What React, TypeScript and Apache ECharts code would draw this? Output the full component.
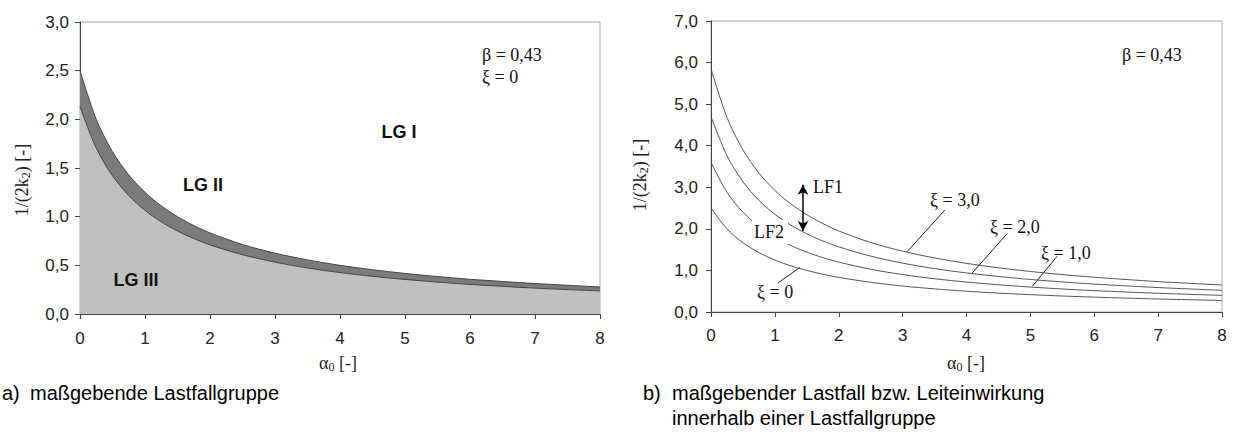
import React, { useEffect, useRef } from "react";
import * as echarts from "echarts";

// α0 sample positions
const alpha = [0, 0.25, 0.5, 0.75, 1, 1.25, 1.5, 1.75, 2, 2.5, 3, 3.5, 4, 4.5, 5, 5.5, 6, 7, 8];

// Left chart (a): boundaries of the load-case groups (β = 0,43, ξ = 0)
const lgUpper = [2.5, 2.0, 1.667, 1.429, 1.25, 1.111, 1.0, 0.909, 0.833, 0.714, 0.625, 0.556, 0.5, 0.455, 0.417, 0.385, 0.357, 0.313, 0.278];
const lgLower = [2.13, 1.704, 1.42, 1.217, 1.065, 0.947, 0.852, 0.775, 0.71, 0.609, 0.533, 0.473, 0.426, 0.387, 0.355, 0.328, 0.304, 0.266, 0.237];

// Right chart (b): curves for ξ = 0, 1, 2, 3
const xi0 = [2.5, 2.0, 1.667, 1.429, 1.25, 1.111, 1.0, 0.909, 0.833, 0.714, 0.625, 0.556, 0.5, 0.455, 0.417, 0.385, 0.357, 0.313, 0.278];
const xi1 = [3.6, 2.88, 2.4, 2.057, 1.8, 1.6, 1.44, 1.309, 1.2, 1.029, 0.9, 0.8, 0.72, 0.655, 0.6, 0.554, 0.514, 0.45, 0.4];
const xi2 = [4.7, 3.76, 3.133, 2.686, 2.35, 2.089, 1.88, 1.709, 1.567, 1.343, 1.175, 1.044, 0.94, 0.855, 0.783, 0.723, 0.671, 0.588, 0.522];
const xi3 = [5.85, 4.68, 3.9, 3.343, 2.925, 2.6, 2.34, 2.127, 1.95, 1.671, 1.463, 1.3, 1.17, 1.064, 0.975, 0.9, 0.836, 0.731, 0.65];

// Tick labels
const xTickLabels = ["0", "1", "2", "3", "4", "5", "6", "7", "8"];
const leftYTickLabels = ["0,0", "0,5", "1,0", "1,5", "2,0", "2,5", "3,0"];
const rightYTickLabels = ["0,0", "1,0", "2,0", "3,0", "4,0", "5,0", "6,0", "7,0"];

// Leader lines (data coords) for the ξ labels and the LF arrow
const leaderXi3 = [[3.66, 2.45], [3.07, 1.45]];
const leaderXi2 = [[4.64, 1.89], [4.09, 0.94]];
const leaderXi1 = [[5.42, 1.34], [5.03, 0.62]];
const leaderXi0 = [[1.39, 1.07], [1.05, 0.7]];
const lfArrow = [[1.44, 1.95], [1.44, 3.06]];

const SANS = "'Liberation Sans', Arial, sans-serif";
const SERIF = "'Liberation Serif', 'Times New Roman', serif";

const pairs = (ys: number[]) => alpha.map((a, i) => [a, ys[i]]);

function xAxis(gridIndex: number, margin: number) {
  return {
    type: "value",
    gridIndex,
    min: 0,
    max: 8,
    interval: 1,
    axisLine: { show: true, lineStyle: { color: "#444", width: 1 } },
    axisTick: { show: true, length: 5, lineStyle: { color: "#444" } },
    splitLine: { show: false },
    axisLabel: {
      margin,
      fontFamily: SANS,
      fontSize: 17,
      color: "#222",
      formatter: (v: number) => xTickLabels[Math.round(v)] ?? "",
    },
  };
}

function yAxis(gridIndex: number, max: number, interval: number, labels: string[], margin: number) {
  return {
    type: "value",
    gridIndex,
    min: 0,
    max,
    interval,
    axisLine: { show: true, lineStyle: { color: "#444", width: 1 } },
    axisTick: { show: true, length: 5, lineStyle: { color: "#444" } },
    splitLine: { show: false },
    axisLabel: {
      margin,
      fontFamily: SANS,
      fontSize: 17,
      color: "#222",
      formatter: (v: number) => labels[Math.round(v / interval)] ?? "",
    },
  };
}

function txt(x: number, y: number, text: string, opts: any = {}) {
  return {
    type: "text",
    x,
    y,
    z: 100,
    style: {
      text,
      fontFamily: opts.fontFamily ?? SERIF,
      fontSize: opts.fontSize ?? 18,
      fontWeight: opts.fontWeight ?? "normal",
      fill: opts.fill ?? "#111",
      align: opts.align ?? "left",
      verticalAlign: "middle",
      backgroundColor: opts.backgroundColor,
      padding: opts.padding,
      rich: opts.rich,
    },
    rotation: opts.rotation ?? 0,
  };
}

const subRich = {
  n: { fontFamily: SERIF, fontSize: 18, fill: "#222" },
  s: { fontFamily: SERIF, fontSize: 12, fill: "#222", padding: [8, 0, 0, 0] },
};

export default function App() {
  const ref = useRef<HTMLDivElement>(null);
  useEffect(() => {
    if (!ref.current) return;
    const chart = echarts.init(ref.current, undefined, { renderer: "svg" });
    const lineStyle = { color: "#555", width: 1 };
    const leader = (pts: number[][]) => [{ coord: pts[0] }, { coord: pts[1] }];
    const curve = (name: string, ys: number[], grid: number, extra: any = {}) => ({
      type: "line",
      name,
      xAxisIndex: grid,
      yAxisIndex: grid,
      data: pairs(ys),
      smooth: 0.3,
      symbol: "none",
      silent: true,
      lineStyle,
      ...extra,
    });
    chart.setOption({
      animation: false,
      backgroundColor: "#fff",
      grid: [
        { left: 80, top: 22, width: 520, height: 292, show: true, borderColor: "#aaa", borderWidth: 1, backgroundColor: "#fff" },
        { left: 711, top: 21, width: 511, height: 291, show: true, borderColor: "#aaa", borderWidth: 1, backgroundColor: "#fff" },
      ],
      xAxis: [xAxis(0, 16), xAxis(1, 15)],
      yAxis: [yAxis(0, 3, 0.5, leftYTickLabels, 11), yAxis(1, 7, 1, rightYTickLabels, 13)],
      series: [
        curve("LG II boundary", lgUpper, 0, {
          lineStyle: { color: "#444", width: 1 },
          areaStyle: { color: "#7b7b7b", opacity: 1 },
        }),
        curve("LG III boundary", lgLower, 0, {
          lineStyle: { color: "#444", width: 1 },
          areaStyle: { color: "#c0c0c0", opacity: 1 },
        }),
        curve("ξ = 0", xi0, 1),
        curve("ξ = 1,0", xi1, 1),
        curve("ξ = 2,0", xi2, 1, {
          markLine: {
            silent: true,
            symbol: "none",
            label: { show: false },
            lineStyle: { color: "#222", width: 1, type: "solid" },
            data: [leader(leaderXi3), leader(leaderXi2), leader(leaderXi1), leader(leaderXi0)],
          },
        }),
        curve("ξ = 3,0", xi3, 1, {
          markLine: {
            silent: true,
            symbol: ["arrow", "arrow"],
            symbolSize: [8, 10],
            label: { show: false },
            lineStyle: { color: "#000", width: 1.5, type: "solid" },
            data: [leader(lfArrow)],
          },
        }),
      ],
      graphic: [
        // left chart annotations
        txt(482, 55, "β = 0,43"),
        txt(482, 77, "ξ = 0"),
        txt(399, 132, "LG I", { fontFamily: SANS, fontWeight: "bold", fontSize: 18, align: "center" }),
        txt(203, 185, "LG II", { fontFamily: SANS, fontWeight: "bold", fontSize: 18, align: "center" }),
        txt(136, 280, "LG III", { fontFamily: SANS, fontWeight: "bold", fontSize: 18, align: "center" }),
        // right chart annotations
        txt(1122, 55, "β = 0,43"),
        txt(813, 187, "LF1"),
        txt(752, 232, "LF2", { backgroundColor: "#fff", padding: [3, 4, 3, 2] }),
        txt(930, 200, "ξ = 3,0"),
        txt(990, 227, "ξ = 2,0"),
        txt(1041, 253, "ξ = 1,0"),
        txt(757, 292, "ξ = 0"),
        // axis titles
        txt(22, 180, "{n|1/(2k}{s|2}{n|) [-]}", { rotation: Math.PI / 2, align: "center", rich: subRich }),
        txt(640, 175, "{n|1/(2k}{s|2}{n|) [-]}", { rotation: Math.PI / 2, align: "center", rich: subRich }),
        txt(338, 363, "{n|α}{s|0}{n| [-]}", { align: "center", rich: subRich }),
        txt(966, 363, "{n|α}{s|0}{n| [-]}", { align: "center", rich: subRich }),
        // captions
        txt(2, 393, "a)", { fontFamily: SANS, fontSize: 20, fill: "#000" }),
        txt(30, 393, "maßgebende Lastfallgruppe", { fontFamily: SANS, fontSize: 20, fill: "#000" }),
        txt(643, 393, "b)", { fontFamily: SANS, fontSize: 20, fill: "#000" }),
        txt(672, 393, "maßgebender Lastfall bzw. Leiteinwirkung", { fontFamily: SANS, fontSize: 20, fill: "#000" }),
        txt(672, 418, "innerhalb einer Lastfallgruppe", { fontFamily: SANS, fontSize: 20, fill: "#000" }),
      ],
    });
    return () => chart.dispose();
  }, []);
  return (
    <div
      ref={ref}
      style={{ position: "absolute", left: 0, top: 0, width: 1236, height: 444, background: "#fff" }}
    />
  );
}
